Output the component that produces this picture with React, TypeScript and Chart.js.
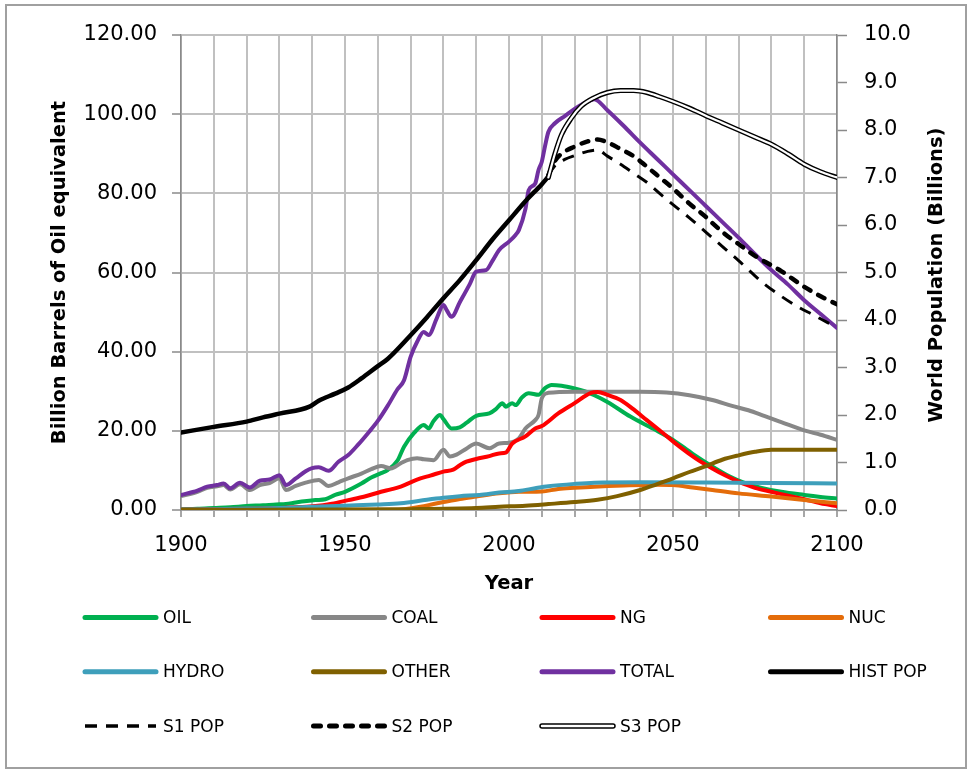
import React, { useEffect, useRef } from 'react';
import { Chart, registerables } from 'chart.js';

Chart.register(...registerables);

// ---- data: [year, value] ----
const oilSeries: [number, number][] = [
  [1900, 0.2], [1905, 0.3], [1910, 0.5], [1915, 0.7], [1920, 1.0], [1925, 1.2], [1929, 1.4], [1932, 1.5],
  [1935, 1.9], [1941, 2.5], [1944, 2.7], [1947, 3.8], [1950, 4.6], [1955, 6.7], [1958, 8.2], [1961, 9.3],
  [1963, 10.1], [1966, 12.5], [1968, 16], [1971, 19.4], [1974, 21.5], [1975.5, 20.6], [1977, 22.5], [1979, 24],
  [1980, 23], [1982.5, 20.6], [1985, 20.9], [1987, 22], [1990, 23.8], [1994, 24.4], [1996, 25.5], [1998, 27],
  [1999, 26.1], [2001, 27], [2002, 26.5], [2004, 28.5], [2006, 29.5], [2009, 29.1], [2011, 30.8], [2013, 31.6],
  [2016, 31.4], [2020, 30.7], [2023, 30], [2026, 29], [2030, 27.3], [2037, 23.6], [2044, 20.5], [2050, 17.7],
  [2056, 14.2], [2062, 11], [2067, 8.6], [2072, 6.8], [2077, 5.6], [2083, 4.6], [2090, 3.8], [2095, 3.3], [2100, 2.9],
];

const coalSeries: [number, number][] = [
  [1900, 3.5], [1905, 4.6], [1908, 5.6], [1911, 6.0], [1913, 6.3], [1915, 5.2], [1918, 6.5], [1921, 5.05],
  [1924, 6.3], [1927, 6.8], [1930, 8.0], [1932, 5.05], [1935, 6.1], [1938, 6.9], [1942, 7.6], [1945, 6.06],
  [1948, 7.0], [1951, 8.0], [1955, 9.2], [1958, 10.3], [1961, 11.1], [1964, 10.5], [1967, 11.8], [1969, 12.6],
  [1972, 13.1], [1974, 12.8], [1977, 12.6], [1980, 15.2], [1982, 13.5], [1984, 14], [1987, 15.5], [1990, 16.8],
  [1994, 15.6], [1997, 16.8], [2000, 17], [2003, 18.1], [2005, 20.6], [2008, 22.7], [2009, 24], [2010, 28.2],
  [2012, 29.6], [2020, 29.9], [2040, 29.9], [2048, 29.7], [2055, 29.0], [2062, 27.8], [2068, 26.3], [2073, 25.2],
  [2078, 23.7], [2083, 22.2], [2090, 20.1], [2095, 19], [2100, 17.7],
];

const ngSeries: [number, number][] = [
  [1900, 0.1], [1910, 0.2], [1920, 0.3], [1929, 0.5], [1941, 1.0], [1946, 1.6], [1951, 2.5], [1956, 3.4],
  [1961, 4.6], [1964, 5.2], [1967, 5.9], [1970, 7.0], [1973, 8.0], [1976, 8.7], [1980, 9.7], [1983, 10.2],
  [1985, 11.3], [1987, 12.2], [1990, 12.9], [1994, 13.6], [1997, 14.3], [1999, 14.5], [2001, 16.8], [2005, 18.6],
  [2008, 20.6], [2010, 21.2], [2015, 24.4], [2020, 27.0], [2025, 29.6], [2027, 29.8], [2030, 29.1], [2034, 27.8],
  [2038, 25.4], [2042, 22.7], [2047, 19.4], [2052, 16.0], [2057, 13.0], [2062, 10.5], [2066, 8.7], [2070, 7.15],
  [2075, 5.6], [2080, 4.6], [2083, 4.0], [2090, 2.7], [2095, 1.7], [2100, 1.0],
];

const nucSeries: [number, number][] = [
  [1900, 0.05], [1965, 0.05], [1968, 0.2], [1973, 0.8], [1977, 1.5], [1980, 2.0], [1985, 2.8], [1990, 3.4],
  [1997, 4.2], [2003, 4.6], [2010, 4.7], [2015, 5.3], [2020, 5.6], [2026, 5.9], [2035, 6.2], [2045, 6.4],
  [2050, 6.3], [2056, 5.7], [2062, 5.05], [2070, 4.2], [2080, 3.4], [2090, 2.5], [2100, 1.7],
];

const hydroSeries: [number, number][] = [
  [1900, 0.1], [1910, 0.2], [1920, 0.35], [1930, 0.5], [1940, 0.8], [1950, 1.1], [1960, 1.4], [1967, 1.7],
  [1975, 2.6], [1980, 3.1], [1985, 3.5], [1991, 3.8], [1997, 4.4], [2003, 4.8], [2008, 5.5], [2012, 6.0],
  [2020, 6.6], [2026, 6.9], [2040, 7.0], [2060, 6.95], [2080, 6.85], [2100, 6.7],
];

const otherSeries: [number, number][] = [
  [1900, 0.05], [1950, 0.1], [1970, 0.2], [1990, 0.5], [1997, 0.8], [2005, 1.1], [2012, 1.5], [2020, 2.0],
  [2027, 2.6], [2033, 3.5], [2040, 5.05], [2045, 6.5], [2050, 8.0], [2055, 9.6], [2060, 11.1], [2065, 12.7],
  [2070, 13.8], [2075, 14.7], [2080, 15.2], [2085, 15.2], [2100, 15.2],
];

const totalSeries: [number, number][] = [
  [1900, 3.8], [1905, 4.9], [1908, 5.9], [1911, 6.3], [1913, 6.7], [1915, 5.5], [1918, 6.9], [1921, 5.7],
  [1924, 7.4], [1927, 7.7], [1930, 8.8], [1932, 6.3], [1935, 8.0], [1938, 9.8], [1940, 10.6], [1942, 10.8],
  [1945, 9.9], [1948, 12.2], [1951, 13.9], [1954, 16.5], [1957, 19.4], [1960, 22.5], [1963, 26.3], [1966, 30.5],
  [1968, 32.8], [1970, 38.7], [1972, 42.5], [1974, 45], [1975.5, 44.2], [1978, 48.5], [1980, 51.8], [1981, 50.5],
  [1982.5, 48.8], [1985, 52.5], [1988, 57], [1990, 60.2], [1993, 60.6], [1995, 63], [1997, 65.7], [2000, 67.8],
  [2002, 69.5], [2003, 70.7], [2005, 76], [2006, 80.8], [2008, 82.5], [2009, 85.9], [2010, 88], [2011, 92],
  [2012, 95.5], [2014, 97.7], [2017, 99.5], [2020, 101.3], [2023, 102.8], [2026, 103.8], [2030, 101], [2035, 97],
  [2040, 92.8], [2045, 88.8], [2050, 84.8], [2055, 80.8], [2060, 76.8], [2065, 72.8], [2070, 68.8], [2075, 64.6],
  [2080, 60.6], [2085, 57], [2090, 53], [2095, 49.5], [2100, 46],
];

const histPopSeries: [number, number][] = [
  [1900, 1.63], [1910, 1.75], [1920, 1.86], [1925, 1.95], [1930, 2.03], [1939, 2.17], [1942, 2.3], [1947, 2.45],
  [1951, 2.58], [1955, 2.77], [1960, 3.03], [1963, 3.18], [1970, 3.68], [1975, 4.06], [1980, 4.46], [1985, 4.84],
  [1990, 5.26], [1995, 5.7], [2000, 6.1], [2005, 6.5], [2010, 6.86], [2012, 7.02],
];

const s1PopSeries: [number, number][] = [
  [2012, 7.05], [2014, 7.25], [2017, 7.38], [2020, 7.46], [2024, 7.55], [2027, 7.58], [2030, 7.45], [2034, 7.28],
  [2038, 7.09], [2042, 6.9], [2046, 6.66], [2050, 6.43], [2055, 6.15], [2060, 5.85], [2065, 5.55], [2070, 5.25],
  [2075, 4.93], [2078, 4.75], [2083, 4.5], [2088, 4.28], [2093, 4.1], [2097, 3.95], [2100, 3.86],
];

const s2PopSeries: [number, number][] = [
  [2012, 7.05], [2014, 7.35], [2016, 7.5], [2020, 7.65], [2024, 7.76], [2027, 7.8], [2030, 7.74], [2034, 7.6],
  [2038, 7.45], [2042, 7.23], [2046, 7.0], [2050, 6.77], [2055, 6.45], [2060, 6.17], [2062, 6.04], [2066, 5.8],
  [2070, 5.6], [2075, 5.35], [2080, 5.15], [2083, 5.03], [2090, 4.7], [2095, 4.5], [2100, 4.33],
];

const s3PopSeries: [number, number][] = [
  [2012, 7.0], [2014, 7.5], [2016, 7.9], [2019, 8.25], [2022, 8.5], [2026, 8.68], [2030, 8.79], [2034, 8.83],
  [2038, 8.83], [2042, 8.79], [2046, 8.7], [2050, 8.6], [2055, 8.46], [2060, 8.3], [2065, 8.15], [2070, 8.0],
  [2075, 7.85], [2080, 7.7], [2085, 7.5], [2090, 7.28], [2095, 7.12], [2100, 7.0],
];

const leftTicks = [0, 20, 40, 60, 80, 100, 120];
const rightTicks = [0, 1, 2, 3, 4, 5, 6, 7, 8, 9, 10];
const yearLabels = [1900, 1950, 2000, 2050, 2100];

const FONT = '"DejaVu Sans", sans-serif';

const pts = (s: [number, number][]) => s.map(([x, y]) => ({ x, y }));

function lineDs(label: string, series: [number, number][], color: string, axis: string, order: number, extra: any = {}) {
  return {
    label,
    data: pts(series),
    borderColor: color,
    backgroundColor: color,
    borderWidth: 4,
    pointRadius: 0,
    cubicInterpolationMode: 'monotone',
    borderJoinStyle: 'round',
    borderCapStyle: 'round',
    yAxisID: axis,
    order,
    ...extra,
  };
}

const gridLegend = {
  id: 'gridLegend',
  afterDraw(chart: any) {
    const ctx = chart.ctx as CanvasRenderingContext2D;
    const items = chart.data.datasets.filter((d: any) => !d.hideInLegend);
    items.forEach((ds: any, i: number) => {
      const col = i % 4;
      const row = Math.floor(i / 4);
      const x0 = 85 + col * 228.5;
      const x1 = x0 + 71;
      const y = 617.5 + row * 54.3;
      ctx.save();
      ctx.beginPath();
      ctx.moveTo(x0, y);
      ctx.lineTo(x1, y);
      if (ds.legendDouble) {
        ctx.lineCap = 'round';
        ctx.strokeStyle = '#000';
        ctx.lineWidth = 5.5;
        ctx.stroke();
        ctx.beginPath();
        ctx.moveTo(x0, y);
        ctx.lineTo(x1, y);
        ctx.strokeStyle = '#fff';
        ctx.lineWidth = 2.5;
        ctx.stroke();
      } else {
        ctx.lineCap = ds.borderCapStyle || 'round';
        ctx.setLineDash(ds.borderDash || []);
        ctx.strokeStyle = ds.borderColor;
        ctx.lineWidth = ds.legendWidth || 5;
        ctx.stroke();
      }
      ctx.setLineDash([]);
      ctx.fillStyle = '#000';
      ctx.font = `17px ${FONT}`;
      ctx.textBaseline = 'middle';
      ctx.textAlign = 'left';
      ctx.fillText(ds.label, x1 + 7, y + 1);
      ctx.restore();
    });
    // right axis title (reads bottom to top)
    ctx.save();
    ctx.translate(937, 275);
    ctx.rotate(-Math.PI / 2);
    ctx.font = `bold 19.5px ${FONT}`;
    ctx.fillStyle = '#000';
    ctx.textAlign = 'center';
    ctx.textBaseline = 'middle';
    ctx.fillText('World Population (Billions)', 0, 0);
    ctx.restore();
  },
};

export default function App() {
  const ref = useRef<HTMLCanvasElement>(null);
  useEffect(() => {
    if (!ref.current) return;
    const gridColor = '#c0c0c0';
    const axisColor = '#8a8a8a';
    const chart = new Chart(ref.current, {
      type: 'line',
      data: {
        datasets: [
          lineDs('OIL', oilSeries, '#00b050', 'y', 20),
          lineDs('COAL', coalSeries, '#878787', 'y', 19),
          lineDs('NG', ngSeries, '#ff0000', 'y', 18),
          lineDs('NUC', nucSeries, '#e46c0a', 'y', 17),
          lineDs('HYDRO', hydroSeries, '#3e9fbb', 'y', 16),
          lineDs('OTHER', otherSeries, '#7f6000', 'y', 15),
          lineDs('TOTAL', totalSeries, '#7030a0', 'y', 14),
          lineDs('HIST POP', histPopSeries, '#000000', 'y1', 13, { borderWidth: 4.5 }),
          lineDs('S1 POP', s1PopSeries, '#000000', 'y1', 12, { borderWidth: 3, borderDash: [12, 9], borderCapStyle: 'butt', legendWidth: 3.5 }),
          lineDs('S2 POP', s2PopSeries, '#000000', 'y1', 11, { borderWidth: 4.5, borderDash: [7, 9], borderCapStyle: 'round', legendWidth: 5 }),
          lineDs('S3 POP', s3PopSeries, '#000000', 'y1', 10, { borderWidth: 5, legendDouble: true }),
          lineDs('S3 POP inner', s3PopSeries, '#ffffff', 'y1', 9, { borderWidth: 2.2, hideInLegend: true }),
        ] as any,
      },
      options: {
        animation: false,
        responsive: false,
        events: [],
        layout: { padding: { left: 0, right: 0, top: 35, bottom: 161 } },
        plugins: { legend: { display: false }, tooltip: { enabled: false }, title: { display: false } },
        scales: {
          x: {
            type: 'linear',
            min: 1900,
            max: 2100,
            afterFit: (s: any) => { s.height = 100; },
            afterBuildTicks: (s: any) => {
              const t = [];
              for (let v = 1900; v <= 2100; v += 10) t.push({ value: v });
              s.ticks = t;
            },
            ticks: {
              autoSkip: false,
              maxRotation: 0,
              color: '#000',
              font: { family: FONT, size: 21 },
              padding: 16,
              callback: (v: any) => (yearLabels.includes(Number(v)) ? String(v) : ''),
            },
            grid: { color: gridColor, lineWidth: 2, tickLength: 7, tickColor: axisColor, tickWidth: 1.5 },
            border: { display: true, color: axisColor, width: 1.5 },
            title: {
              display: true,
              text: 'Year',
              color: '#000',
              font: { family: FONT, size: 19.5, weight: 'bold' },
              padding: { top: 0, bottom: 14 },
            },
          },
          y: {
            position: 'left',
            min: 0,
            max: 120,
            afterFit: (s: any) => { s.width = 181; },
            afterBuildTicks: (s: any) => { s.ticks = leftTicks.map((v) => ({ value: v })); },
            ticks: {
              color: '#000',
              font: { family: FONT, size: 21 },
              padding: 15,
              callback: (v: any) => Number(v).toFixed(2),
            },
            grid: { color: gridColor, lineWidth: 2, tickLength: 9, tickColor: axisColor, tickWidth: 1.5 },
            border: { display: true, color: axisColor, width: 1.5 },
            title: {
              display: true,
              text: 'Billion Barrels of Oil equivalent',
              color: '#000',
              font: { family: FONT, size: 19.5, weight: 'bold' },
              padding: { top: 48.5, bottom: 0 },
            },
          },
          y1: {
            position: 'right',
            min: 0,
            max: 10,
            afterFit: (s: any) => { s.width = 979 - 837; },
            afterBuildTicks: (s: any) => { s.ticks = rightTicks.map((v) => ({ value: v })); },
            ticks: {
              color: '#000',
              font: { family: FONT, size: 21 },
              padding: 17,
              callback: (v: any) => Number(v).toFixed(1),
            },
            grid: { drawOnChartArea: false, tickLength: 10, tickColor: axisColor, tickWidth: 1.5 },
            border: { display: true, color: axisColor, width: 1.5 },
          },
        },
      } as any,
      plugins: [gridLegend],
    });
    return () => chart.destroy();
  }, []);

  return (
    <div style={{ position: 'absolute', left: 0, top: 0, width: 979, height: 771, background: '#fff' }}>
      <div
        style={{
          position: 'absolute',
          left: 5,
          top: 4,
          width: 962,
          height: 765,
          border: '2px solid #a0a0a0',
          boxSizing: 'border-box',
        }}
      />
      <canvas ref={ref} width={979} height={771} style={{ position: 'absolute', left: 0, top: 0 }} />
    </div>
  );
}
